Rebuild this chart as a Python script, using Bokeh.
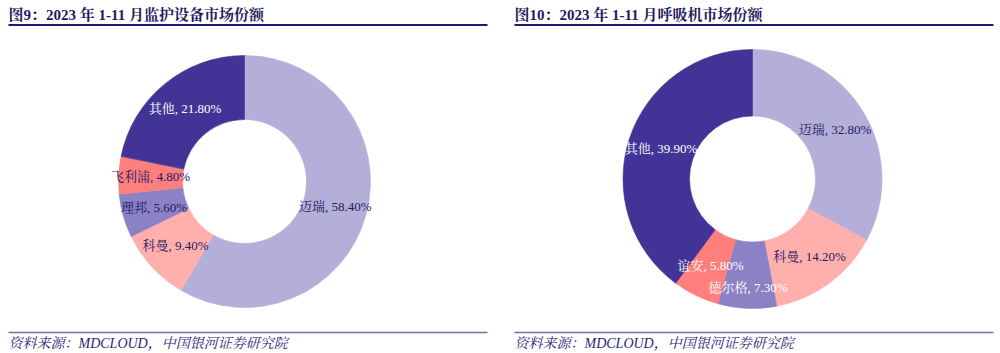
import math
from bokeh.plotting import figure
from bokeh.models import Range1d, Label, ColumnDataSource
from bokeh.core.properties import value
from bokeh.embed import file_html
from bokeh.resources import INLINE

# ---- data ----
left_title = "图9：2023 年 1-11 月监护设备市场份额"
left_names = ["迈瑞", "科曼", "理邦", "飞利浦", "其他"]
left_values = [58.40, 9.40, 5.60, 4.80, 21.80]

right_title = "图10：2023 年 1-11 月呼吸机市场份额"
right_names = ["迈瑞", "科曼", "德尔格", "谊安", "其他"]
right_values = [32.80, 14.20, 7.30, 5.80, 39.90]

source_text = "资料来源：MDCLOUD，中国银河证券研究院"

# ---- styles ----
left_colors = ["#B4AFD8", "#FFB0AD", "#8A82C4", "#FF7F7E", "#413496"]
right_colors = ["#B4AFD8", "#FFB0AD", "#8A82C4", "#FF7F7E", "#413496"]
left_text_colors = ["#1E1A66", "#1E1A66", "#1E1A66", "#1E1A66", "#FFFFFF"]
right_text_colors = ["#1E1A66", "#1E1A66", "#FFFFFF", "#FFFFFF", "#FFFFFF"]
# extra outward push (px) of some labels to avoid overlap
left_label_push = [0, 0, 0, 0, 0]
right_label_push = [0, 0, 12, 0, 0]

W, H = 1000, 353
p = figure(width=W, height=H, x_range=Range1d(0, W), y_range=Range1d(0, H),
           output_backend="svg", toolbar_location=None,
           x_axis_location=None, y_axis_location=None, min_border=0)
p.grid.visible = False
p.outline_line_color = None
p.background_fill_color = "white"
p.border_fill_color = "white"

LABEL_FONT = value("'Liberation Serif', 'Noto Serif CJK SC', 'Noto Sans CJK SC', serif")


def donut(cx, cy, r_out, r_in, names, vals, colors, tcolors, push):
    total = sum(vals)
    cum = 0.0
    starts, ends, lx, ly, texts = [], [], [], [], []
    for v, dp in zip(vals, push):
        a0 = math.pi / 2 - 2 * math.pi * (cum + v) / total
        a1 = math.pi / 2 - 2 * math.pi * cum / total
        starts.append(a0)
        ends.append(a1)
        mid = (a0 + a1) / 2
        rm = (r_out + r_in) / 2 + dp
        lx.append(cx + rm * math.cos(mid))
        ly.append(cy + rm * math.sin(mid))
        cum += v
    for n, v in zip(names, vals):
        texts.append(f"{n}, {v:.2f}%")
    src = ColumnDataSource(dict(start=starts, end=ends, color=colors,
                                lx=lx, ly=ly, text=texts, tcolor=tcolors))
    p.annular_wedge(x=cx, y=cy, inner_radius=r_in, outer_radius=r_out,
                    start_angle="start", end_angle="end", fill_color="color",
                    line_color="color", line_width=0.6, source=src)
    p.text(x="lx", y="ly", text="text", text_color="tcolor", source=src,
           text_align="center", text_baseline="middle",
           text_font=LABEL_FONT, text_font_size="13px")


donut(244, H - 181, 126, 62, left_names, left_values, left_colors,
      left_text_colors, left_label_push)
donut(752, H - 178.5, 129.5, 63, right_names, right_values, right_colors,
      right_text_colors, right_label_push)

# titles, rules and sources
TITLE_FONT = "'Liberation Serif', 'Noto Serif CJK SC', 'Noto Sans CJK SC', serif"
for x0, x1, t in [(8, 487, left_title), (514, 993, right_title)]:
    p.add_layout(Label(x=x0, y=H - 14, x_units="data", y_units="data", text=t,
                       text_font=TITLE_FONT, text_font_size="15px",
                       text_font_style="bold", text_color="#1E1B5E",
                       text_baseline="middle", text_align="left"))
    p.line(x=[x0, x1], y=[H - 24.5, H - 24.5], line_color="#1F1B6E", line_width=2)
    p.line(x=[x0, x1], y=[H - 332, H - 332], line_color="#7570A6", line_width=1.5)
    p.add_layout(Label(x=x0, y=H - 343, x_units="data", y_units="data", text=source_text,
                       text_font=TITLE_FONT, text_font_size="14px",
                       text_font_style="italic", text_color="#2A2477",
                       text_baseline="middle", text_align="left"))

open("out.html", "w").write(file_html(p, INLINE))
